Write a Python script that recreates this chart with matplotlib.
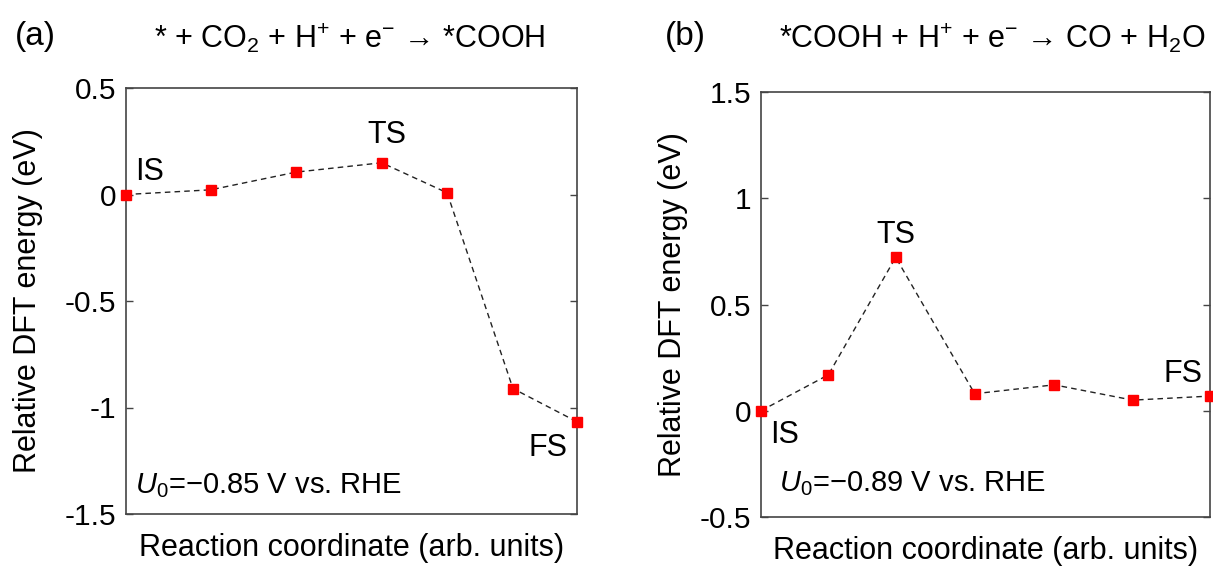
import matplotlib
matplotlib.use("Agg")
import matplotlib.pyplot as plt

plt.rcParams['font.family'] = ['Liberation Sans', 'DejaVu Sans']
plt.rcParams['mathtext.fontset'] = 'custom'
plt.rcParams['mathtext.rm'] = 'Liberation Sans'
plt.rcParams['mathtext.it'] = 'Liberation Sans:italic'
plt.rcParams['mathtext.bf'] = 'Liberation Sans:bold'

# Panel (a) data
xa = [0.0, 0.188, 0.377, 0.567, 0.712, 0.858, 1.0]
ya = [0.0, 0.022, 0.105, 0.149, 0.008, -0.911, -1.067]
# Panel (b) data
xb = [0.0, 0.150, 0.300, 0.476, 0.653, 0.828, 1.0]
yb = [0.0, 0.169, 0.722, 0.080, 0.122, 0.050, 0.069]

ticks_a = [0.5, 0, -0.5, -1, -1.5]
ticklabels_a = ['0.5', '0', '-0.5', '-1', '-1.5']
ticks_b = [1.5, 1, 0.5, 0, -0.5]
ticklabels_b = ['1.5', '1', '0.5', '0', '-0.5']

title_a = r'* + CO$_2$ + H$^{+}$ + e$^{-}$ → *COOH'
title_b = r'*COOH + H$^{+}$ + e$^{-}$ → CO + H$_2$O'
pot_a = r'$U_0$=−0.85 V vs. RHE'
pot_b = r'$U_0$=−0.89 V vs. RHE'

W, H = 1213, 567
fig = plt.figure(figsize=(W / 100, H / 100), dpi=100)

def axrect(l, t, r, b):
    return [l / W, 1 - b / H, (r - l) / W, (b - t) / H]

ax1 = fig.add_axes(axrect(126, 88, 577, 514))
ax2 = fig.add_axes(axrect(761, 92, 1210, 517))

spine_col = '#444444'
fs = 22
tfs = 21.5

def style(ax, ticks, labels, ylim, ylab_x):
    ax.set_xlim(0, 1)
    ax.set_ylim(*ylim)
    ax.set_xticks([])
    ax.set_yticks(ticks)
    ax.set_yticklabels(labels, fontsize=tfs)
    ax.tick_params(axis='y', direction='in', left=True, right=True, length=5,
                   width=1, color=spine_col, pad=7)
    for s in ax.spines.values():
        s.set_color(spine_col)
        s.set_linewidth(1.2)
    ax.set_xlabel('Reaction coordinate (arb. units)', fontsize=fs, labelpad=14)
    ax.set_ylabel('Relative DFT energy (eV)', fontsize=fs, va='center')
    ax.yaxis.set_label_coords(ylab_x, 0.5)

for ax, x, y in [(ax1, xa, ya), (ax2, xb, yb)]:
    ax.plot(x, y, linestyle=(0, (4, 3)), color='#222222', linewidth=1.0,
            marker='s', markersize=6.5, markerfacecolor='red',
            markeredgecolor='red', clip_on=False, zorder=3)

style(ax1, ticks_a, ticklabels_a, (-1.5, 0.5), -0.217)
style(ax2, ticks_b, ticklabels_b, (-0.5, 1.5), -0.196)

# annotations panel a
ax1.text(0.02, 0.066, 'IS', fontsize=fs, ha='left', va='baseline')
ax1.text(0.578, 0.24, 'TS', fontsize=fs, ha='center', va='baseline')
ax1.text(0.978, -1.227, 'FS', fontsize=fs, ha='right', va='baseline')
ax1.text(0.02, -1.40, pot_a, fontsize=fs - 1, ha='left', va='baseline')

# annotations panel b
ax2.text(0.02, -0.15, 'IS', fontsize=fs, ha='left', va='baseline')
ax2.text(0.300, 0.79, 'TS', fontsize=fs, ha='center', va='baseline')
ax2.text(0.984, 0.136, 'FS', fontsize=fs, ha='right', va='baseline')
ax2.text(0.040, -0.38, pot_b, fontsize=fs - 1, ha='left', va='baseline')

fig.text(15 / W, 1 - 36 / H, '(a)', fontsize=fs + 2, ha='left', va='center')
fig.text(665 / W, 1 - 36 / H, '(b)', fontsize=fs + 2, ha='left', va='center')
fig.text(350 / W, 1 - 38 / H, title_a, fontsize=fs, ha='center', va='center')
fig.text(992 / W, 1 - 38 / H, title_b, fontsize=fs, ha='center', va='center')

fig.savefig('out.png', dpi=100)
